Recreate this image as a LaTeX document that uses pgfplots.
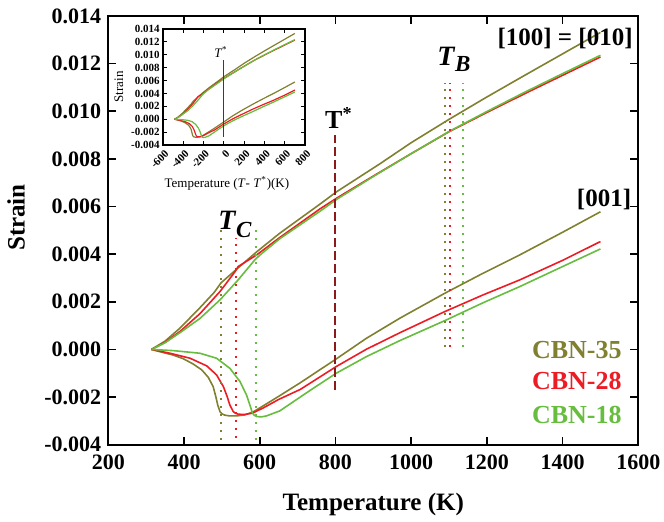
\documentclass[border=0pt]{standalone}
\usepackage{pgfplots}
\usepackage{pgfplotstable}
\usepackage{fontspec}
\setmainfont{Liberation Serif}
\pgfplotsset{compat=1.18}
\definecolor{olv}{RGB}{128,128,48}
\definecolor{rd}{RGB}{237,28,36}
\definecolor{grn}{RGB}{102,189,62}
\definecolor{dred}{RGB}{140,26,26}

% upper branch [100]=[010]
\pgfplotstableread{
T S
314 0
350 0.00035
389 0.00089
442 0.00175
480 0.00240
498 0.00280
539 0.00337
592 0.00410
653 0.00488
759 0.00610
803 0.00662
918 0.00780
1000 0.00868
1100 0.00966
1200 0.01060
1300 0.01151
1400 0.01241
1500 0.01331
}\uA
\pgfplotstableread{
T S
314 0
350 0.00030
389 0.00075
442 0.00150
495 0.00243
535 0.00327
543 0.00348
592 0.00397
653 0.00470
759 0.00590
803 0.00635
900 0.00728
1000 0.00822
1100 0.00914
1200 0.00995
1300 0.01074
1400 0.01151
1500 0.01228
}\uB
\pgfplotstableread{
T S
314 0
350 0.00028
389 0.00070
442 0.00130
495 0.00208
543 0.00292
587 0.00376
601 0.00397
653 0.00465
759 0.00580
803 0.00630
900 0.00726
1000 0.00822
1100 0.00915
1200 0.00999
1300 0.01080
1400 0.01158
1500 0.01235
}\uC
% lower branch [001]
\pgfplotstableread{
T S
314 0
345 -0.00013
372 -0.00024
398 -0.00039
424 -0.00061
447 -0.00086
464 -0.00117
477 -0.00156
484 -0.00198
489 -0.00233
495 -0.00261
501 -0.00271
508 -0.00276
520 -0.00279
539 -0.00279
560 -0.00275
583 -0.00262
610 -0.00236
650 -0.00197
707 -0.00140
802 -0.00040
882 0.00047
970 0.00131
1089 0.00236
1190 0.00320
1287 0.00397
1400 0.00492
1500 0.00578
}\lA
\pgfplotstableread{
T S
314 0
363 -0.00016
416 -0.00037
460 -0.00069
486 -0.00107
504 -0.00156
514 -0.00198
521 -0.00233
530 -0.00261
536 -0.00268
543 -0.00272
560 -0.00273
580 -0.00268
610 -0.00245
650 -0.00210
707 -0.00168
802 -0.00072
882 0.00001
970 0.00070
1089 0.00159
1190 0.00229
1287 0.00292
1400 0.00374
1500 0.00453
}\lB
\pgfplotstableread{
T S
314 0
372 -0.00005
442 -0.00016
486 -0.00037
521 -0.00079
548 -0.00135
565 -0.00191
574 -0.00233
581 -0.00268
586 -0.00277
592 -0.00282
605 -0.00283
618 -0.00279
653 -0.00258
733 -0.00172
802 -0.00100
882 -0.00030
970 0.00037
1089 0.00121
1190 0.00196
1287 0.00264
1400 0.00348
1500 0.00422
}\lC

\begin{document}
\begin{tikzpicture}
\begin{axis}[
  at={(0,0)}, anchor=south west,
  scale only axis, width=265pt, height=214.35pt,
  xmin=200, xmax=1600, ymin=-0.004, ymax=0.014,
  xtick={200,400,600,800,1000,1200,1400,1600},
  ytick={-0.004,-0.002,0,0.002,0.004,0.006,0.008,0.010,0.012,0.014},
  scaled y ticks=false,
  /pgf/number format/assume math mode=true,
  xticklabel style={/pgf/number format/set thousands separator={}, yshift=-1.5pt},
  yticklabel style={/pgf/number format/fixed, /pgf/number format/fixed zerofill, /pgf/number format/precision=3},
  tick label style={font=\fontsize{11}{12}\selectfont\bfseries},
  tick align=inside, major tick length=4pt,
  every tick/.style={black, line width=0.8pt},
  axis line style={line width=1pt},
  xlabel={Temperature (K)}, ylabel={Strain},
  label style={font=\fontsize{12.5}{14}\selectfont\bfseries},
  xlabel style={at={(axis description cs:0.5,0)}, anchor=center, yshift=-30pt},
  ylabel style={at={(axis description cs:-0.174,0.53)}, anchor=center},
  clip=false,
]
\addplot[olv, line width=0.8pt] table[x=T,y=S] {\uA};
\addplot[rd, line width=0.8pt] table[x=T,y=S] {\uB};
\addplot[grn, line width=0.8pt] table[x=T,y=S] {\uC};
\addplot[olv, line width=0.8pt] table[x=T,y=S] {\lA};
\addplot[rd, line width=0.8pt] table[x=T,y=S] {\lB};
\addplot[grn, line width=0.8pt] table[x=T,y=S] {\lC};
% T_C dotted lines
\addplot[olv, line width=1pt, dash pattern=on 1pt off 3pt] coordinates {(498,-0.0038) (498,0.0050)};
\addplot[rd, line width=1pt, dash pattern=on 1pt off 3pt] coordinates {(536.5,-0.0037) (536.5,0.0047)};
\addplot[grn, line width=1pt, dash pattern=on 1pt off 3pt] coordinates {(590,-0.0038) (590,0.0050)};
% T_B dotted lines
\addplot[olv, line width=1pt, dash pattern=on 1pt off 3pt] coordinates {(1089,0.0001) (1089,0.0112)};
\addplot[rd, line width=1pt, dash pattern=on 1pt off 3pt] coordinates {(1102,0.0001) (1102,0.0112)};
\addplot[grn, line width=1pt, dash pattern=on 1pt off 3pt] coordinates {(1136,0.0001) (1136,0.0112)};
% T* dashed line
\addplot[dred, line width=1pt, dash pattern=on 4.5pt off 2pt] coordinates {(800,-0.0017) (800,0.0090)};
% annotations
\node[anchor=base west, inner sep=0pt] at (axis cs:490,0.00502)
  {\fontsize{14}{14}\selectfont\bfseries\itshape T\kern0.3pt\raisebox{-4pt}{\fontsize{11.5}{12}\selectfont C}};
\node[anchor=base west, inner sep=0pt] at (axis cs:1068,0.01194)
  {\fontsize{14}{14}\selectfont\bfseries\itshape T\kern0.3pt\raisebox{-3.4pt}{\fontsize{11.5}{12}\selectfont B}};
\node[anchor=base west, inner sep=0pt] at (axis cs:772,0.00929)
  {\fontsize{13}{13}\selectfont\bfseries T\textsuperscript{*}};
\node[anchor=base east, inner sep=0pt] at (axis cs:1586,0.01278)
  {\fontsize{12.5}{13}\selectfont\bfseries [100] = [010]};
\node[anchor=base east, inner sep=0pt] at (axis cs:1582,0.0060)
  {\fontsize{12.5}{13}\selectfont\bfseries [001]};
\node[anchor=base east, inner sep=0pt, text=olv] at (axis cs:1557,-0.00036)
  {\fontsize{13}{13}\selectfont\bfseries CBN-35};
\node[anchor=base east, inner sep=0pt, text=rd] at (axis cs:1557,-0.0017)
  {\fontsize{13}{13}\selectfont\bfseries CBN-28};
\node[anchor=base east, inner sep=0pt, text=grn] at (axis cs:1557,-0.0031)
  {\fontsize{13}{13}\selectfont\bfseries CBN-18};
\end{axis}

% inset
\begin{axis}[
  at={(27.35pt,149.85pt)}, anchor=south west,
  scale only axis, width=71pt, height=58pt,
  axis background/.style={fill=white},
  xmin=-600, xmax=800, ymin=-0.004, ymax=0.014,
  xtick={-600,-400,-200,0,200,400,600,800},
  ytick={-0.004,-0.002,0,0.002,0.004,0.006,0.008,0.010,0.012,0.014},
  scaled y ticks=false,
  /pgf/number format/assume math mode=true,
  xticklabel style={rotate=45, anchor=north east, inner sep=1pt, yshift=-0.8pt},
  yticklabel style={/pgf/number format/fixed, /pgf/number format/fixed zerofill, /pgf/number format/precision=3, inner sep=1.5pt},
  tick label style={font=\fontsize{5.5}{6}\selectfont\bfseries},
  tick align=inside, major tick length=2pt,
  every tick/.style={black, line width=0.5pt},
  axis line style={line width=0.7pt},
  xlabel={Temperature (\textit{T}- \textit{T}\textsuperscript{*})(K)}, ylabel={Strain},
  label style={font=\fontsize{6.5}{7}\selectfont},
  xlabel style={at={(axis description cs:0.45,0)}, anchor=center, yshift=-19pt},
  ylabel style={at={(axis description cs:-0.31,0.5)}, anchor=center},
  clip=false,
]
\addplot[olv, line width=0.6pt] table[x expr=\thisrow{T}-800,y=S] {\uA};
\addplot[rd, line width=0.6pt] table[x expr=\thisrow{T}-800,y=S] {\uB};
\addplot[grn, line width=0.6pt] table[x expr=\thisrow{T}-800,y=S] {\uC};
\addplot[olv, line width=0.6pt] table[x expr=\thisrow{T}-800,y=S] {\lA};
\addplot[rd, line width=0.6pt] table[x expr=\thisrow{T}-800,y=S] {\lB};
\addplot[grn, line width=0.6pt] table[x expr=\thisrow{T}-800,y=S] {\lC};
\addplot[dred, line width=0.5pt] coordinates {(0,-0.0027) (0,0.0092)};
\node[anchor=base, inner sep=0pt] at (axis cs:-30,0.0096)
  {\fontsize{6.5}{7}\selectfont\itshape T\textsuperscript{*}};
\end{axis}
\pgfresetboundingbox
\path (-54.15pt,-38.15pt) rectangle (277.85pt,222.35pt);
\end{tikzpicture}
\end{document}
